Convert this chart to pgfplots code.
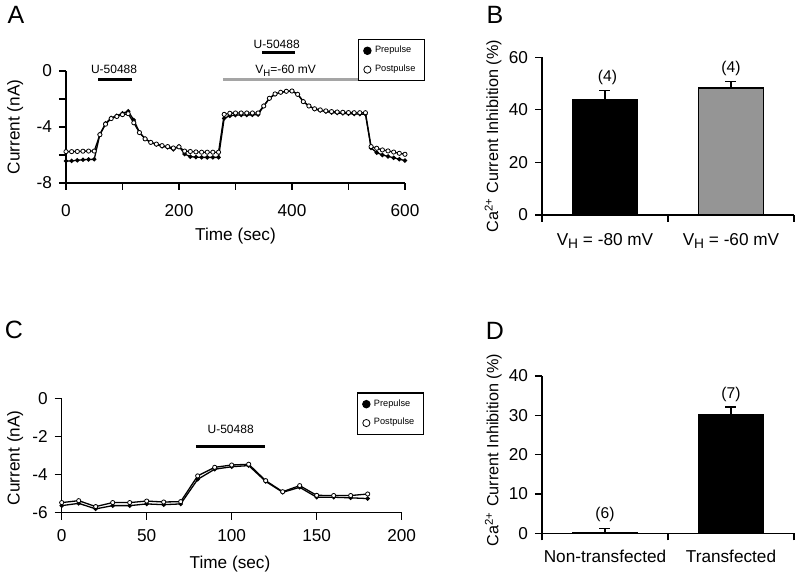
\documentclass[border=0pt]{standalone}
\usepackage{pgfplots}
\pgfplotsset{compat=1.18}
\usepackage{fontspec}
\setmainfont{Liberation Sans}
\definecolor{bargray}{HTML}{959595}
\definecolor{linegray}{HTML}{A5A5A5}
\newcommand{\VH}{V\raisebox{-0.4ex}{\scalebox{0.8}{H}}}
\pgfplotsset{
  panel/.style={
    scale only axis, axis lines=left, axis line style={-, line width=0.6pt},
    tick align=outside, tick pos=left, major tick length=3.5pt,
    tick style={line width=0.6pt, black},
    /pgf/number format/assume math mode=true,
    font=\fontsize{8.6}{10}\selectfont,
    ticklabel style={font=\fontsize{8.6}{10}\selectfont},
    clip=false,
  },
  tracelegend/.style={
    legend cell align=left,
    legend style={draw=black, line width=0.6pt, font=\fontsize{4.6}{5}\selectfont,
      inner xsep=2.5pt, inner ysep=1.2pt, row sep=0.6pt, cells={anchor=west}},
  },
  pre/.style={black, line width=0.65pt, mark=*, mark size=0.75pt, forget plot},
  post/.style={black, line width=0.65pt, mark=*, mark size=1.05pt, mark options={fill=white, line width=0.4pt}, forget plot},
}
\begin{document}
\begin{tikzpicture}
\path[use as bounding box] (0,0) rectangle (400pt,286pt);
\node[font=\fontsize{12.5}{14}\selectfont] at (8pt,278.5pt) {A};
\node[font=\fontsize{12.5}{14}\selectfont] at (247.5pt,278.5pt) {B};
\node[font=\fontsize{12.5}{14}\selectfont] at (7pt,121pt) {C};
\node[font=\fontsize{12.5}{14}\selectfont] at (247.5pt,120.5pt) {D};

% ---------------- Panel A
\begin{axis}[panel, tracelegend, at={(33pt,194.5pt)}, anchor=south west,
  width=169.5pt, height=56pt,
  xmin=0, xmax=600, ymin=-8, ymax=0,
  xtick={0,100,...,600}, xticklabels={0,,200,,400,,600},
  ytick={-8,-6,-4,-2,0}, yticklabels={-8,,-4,,0},
  xticklabel style={yshift=-3.5pt},
  xlabel={Time (sec)}, ylabel={Current (nA)},
  xlabel style={at={(axis description cs:0.5,-0.47)}, anchor=center},
  ylabel style={at={(axis description cs:-0.15,0.5)}, anchor=center},
  legend style={at={(rel axis cs:0.862,1.286)}, anchor=north west},
]
\addplot[pre] coordinates {
(0,-6.43) (10,-6.42) (20,-6.38) (30,-6.34) (40,-6.32) (50,-6.31) (60,-4.52) (70,-3.74) (80,-3.35) (90,-3.2)
(100,-3.02) (110,-2.88) (120,-3.5) (130,-4.38) (140,-4.83) (150,-5.1) (160,-5.25) (170,-5.38) (180,-5.45) (190,-5.6)
(200,-5.38) (210,-5.93) (220,-6.12) (230,-6.15) (240,-6.17) (250,-6.17) (260,-6.17) (270,-6.17) (280,-3.38) (290,-3.2)
(300,-3.15) (310,-3.14) (320,-3.14) (330,-3.13) (340,-3.12) (350,-2.5) (360,-1.97) (370,-1.66) (380,-1.53) (390,-1.46)
(400,-1.43) (410,-1.65) (420,-2.17) (430,-2.5) (440,-2.72) (450,-2.82) (460,-2.9) (470,-2.97) (480,-3.0) (490,-3.03)
(500,-3.05) (510,-3.07) (520,-3.08) (530,-3.08) (540,-5.5) (550,-5.83) (560,-6.0) (570,-6.1) (580,-6.2) (590,-6.3) (600,-6.4)
};
\addplot[post] coordinates {
(0,-5.76) (10,-5.76) (20,-5.75) (30,-5.73) (40,-5.72) (50,-5.72) (60,-4.55) (70,-3.8) (80,-3.4) (90,-3.25)
(100,-3.12) (110,-3.05) (120,-3.7) (130,-4.4) (140,-4.85) (150,-5.1) (160,-5.22) (170,-5.33) (180,-5.4) (190,-5.5)
(200,-5.42) (210,-5.72) (220,-5.75) (230,-5.78) (240,-5.8) (250,-5.8) (260,-5.8) (270,-5.8) (280,-3.1) (290,-3.02)
(300,-3.0) (310,-3.0) (320,-3.0) (330,-3.0) (340,-3.0) (350,-2.5) (360,-1.95) (370,-1.64) (380,-1.52) (390,-1.45)
(400,-1.43) (410,-1.67) (420,-2.19) (430,-2.5) (440,-2.7) (450,-2.78) (460,-2.85) (470,-2.9) (480,-2.93) (490,-2.95)
(500,-2.97) (510,-2.98) (520,-2.98) (530,-2.98) (540,-5.4) (550,-5.52) (560,-5.64) (570,-5.71) (580,-5.79) (590,-5.88) (600,-5.95)
};
\addlegendimage{only marks, mark=*, mark size=1.8pt, black}
\addlegendentry{Prepulse}
\addlegendimage{only marks, mark=o, mark size=1.8pt, black, line width=0.4pt}
\addlegendentry{Postpulse}
\draw[line width=1.6pt] (axis cs:57,-0.6) -- (axis cs:116,-0.6);
\node[font=\fontsize{6}{7}\selectfont] at (axis cs:85,0.14) {U-50488};
\draw[line width=1.6pt] (axis cs:347.5,1.31) -- (axis cs:405.3,1.31);
\node[font=\fontsize{6}{7}\selectfont] at (axis cs:373,1.93) {U-50488};
\draw[line width=1.3pt, linegray] (axis cs:277.6,-0.6) -- (axis cs:526.6,-0.6);
\node[font=\fontsize{6}{7}\selectfont] at (axis cs:388.8,0.02) {\VH=-60 mV};
\end{axis}

% ---------------- Panel B
\begin{axis}[panel, at={(271pt,178.5pt)}, anchor=south west,
  width=126pt, height=78.85pt,
  xmin=0, xmax=2, ymin=0, ymax=60,
  xtick={0,1,2}, xticklabels={},
  extra x ticks={0.5,1.5},
  extra x tick labels={\VH{} = -80 mV, \VH{} = -60 mV},
  extra x tick style={major tick length=0pt},
  xticklabel style={yshift=-5.5pt},
  ytick={0,20,40,60},
  ylabel={Ca\textsuperscript{2+} Current Inhibition (\%)},
  ylabel style={at={(axis description cs:-0.194,0.5)}, anchor=center, font=\fontsize{8.1}{9}\selectfont},
]
\addplot[ybar, bar shift=0pt, bar width=0.51, fill=black, draw=black, line width=0.6pt,
  error bars/.cd, y dir=plus, y explicit, error bar style={line width=0.6pt},
  error mark options={line width=0.6pt, mark size=2.75pt, rotate=90}]
  coordinates {(0.5,43.8) +- (0,3.6)};
\addplot[ybar, bar shift=0pt, bar width=0.51, fill=bargray, draw=black, line width=0.6pt,
  error bars/.cd, y dir=plus, y explicit, error bar style={line width=0.6pt},
  error mark options={line width=0.6pt, mark size=2.75pt, rotate=90}]
  coordinates {(1.5,48.3) +- (0,2.6)};
\node[font=\fontsize{7.8}{9}\selectfont] at (axis cs:0.52,52.4) {(4)};
\node[font=\fontsize{7.8}{9}\selectfont] at (axis cs:1.5,55.8) {(4)};
\end{axis}

% ---------------- Panel C
\begin{axis}[panel, tracelegend, at={(30.85pt,29.65pt)}, anchor=south west,
  width=170pt, height=57.2pt,
  xmin=0, xmax=200, ymin=-6, ymax=0,
  xtick={0,50,...,200}, xticklabels={0,50,100,150,200},
  ytick={-6,-4,-2,0}, yticklabels={-6,-4,-2,0},
  xticklabel style={yshift=-1.5pt},
  xlabel={Time (sec)}, ylabel={Current (nA)},
  xlabel style={at={(axis description cs:0.495,-0.45)}, anchor=center},
  ylabel style={at={(axis description cs:-0.137,0.48)}, anchor=center},
  legend style={at={(rel axis cs:0.869,1.052)}, anchor=north west},
]
\addplot[pre] coordinates {
(0,-5.63) (10,-5.51) (20,-5.8) (30,-5.63) (40,-5.63) (50,-5.54) (60,-5.58) (70,-5.54) (80,-4.25) (90,-3.72)
(100,-3.59) (110,-3.53) (120,-4.36) (130,-4.93) (140,-4.67) (150,-5.19) (160,-5.19) (170,-5.22) (180,-5.26)
};
\addplot[post] coordinates {
(0,-5.47) (10,-5.37) (20,-5.68) (30,-5.47) (40,-5.47) (50,-5.39) (60,-5.44) (70,-5.42) (80,-4.07) (90,-3.62)
(100,-3.5) (110,-3.46) (120,-4.32) (130,-4.9) (140,-4.58) (150,-5.09) (160,-5.1) (170,-5.1) (180,-5.02)
};
\addlegendimage{only marks, mark=*, mark size=1.8pt, black}
\addlegendentry{Prepulse}
\addlegendimage{only marks, mark=o, mark size=1.8pt, black, line width=0.4pt}
\addlegendentry{Postpulse}
\draw[line width=1.6pt] (axis cs:79,-2.54) -- (axis cs:119.5,-2.54);
\node[font=\fontsize{6}{7}\selectfont] at (axis cs:99.4,-1.63) {U-50488};
\end{axis}

% ---------------- Panel D
\begin{axis}[panel, at={(271pt,19.35pt)}, anchor=south west,
  width=126pt, height=78.65pt,
  xmin=0, xmax=2, ymin=0, ymax=40,
  xtick={0,1,2}, xticklabels={},
  extra x ticks={0.5,1.5},
  extra x tick labels={Non-transfected, Transfected},
  extra x tick style={major tick length=0pt},
  xticklabel style={yshift=-5pt},
  ytick={0,10,20,30,40},
  ylabel={Ca\textsuperscript{2+} Current Inhibition (\%)},
  ylabel style={at={(axis description cs:-0.193,0.53)}, anchor=center, font=\fontsize{8.1}{9}\selectfont},
]
\addplot[ybar, bar shift=0pt, bar width=0.51, fill=black, draw=black, line width=0.6pt,
  error bars/.cd, y dir=plus, y explicit, error bar style={line width=0.6pt},
  error mark options={line width=0.6pt, mark size=2.75pt, rotate=90}]
  coordinates {(0.5,0.25) +- (0,1.05)};
\addplot[ybar, bar shift=0pt, bar width=0.51, fill=black, draw=black, line width=0.6pt,
  error bars/.cd, y dir=plus, y explicit, error bar style={line width=0.6pt},
  error mark options={line width=0.6pt, mark size=2.75pt, rotate=90}]
  coordinates {(1.5,30.1) +- (0,2.0)};
\node[font=\fontsize{7.8}{9}\selectfont] at (axis cs:0.5,4.83) {(6)};
\node[font=\fontsize{7.8}{9}\selectfont] at (axis cs:1.5,35.2) {(7)};
\end{axis}
\end{tikzpicture}
\end{document}
